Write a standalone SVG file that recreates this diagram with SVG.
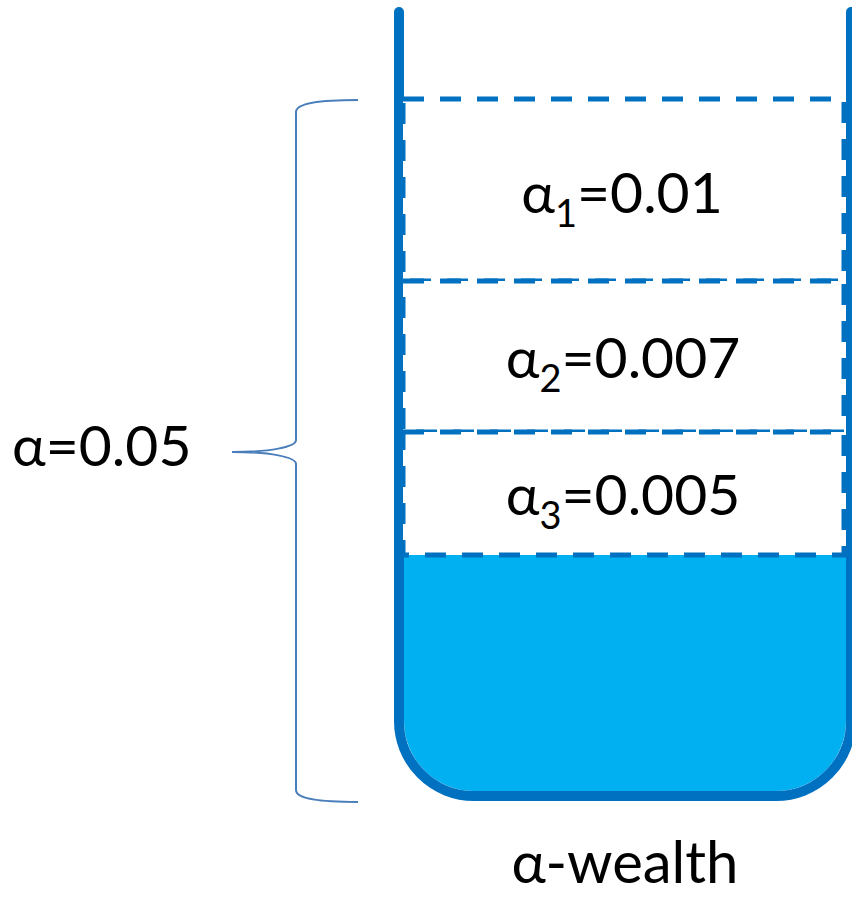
<svg xmlns="http://www.w3.org/2000/svg" width="852" height="897" viewBox="0 0 852 897">
<style>
.t{font-family:Lato,"Liberation Sans",sans-serif;font-size:57px;fill:#000}
.sub{font-size:38px}
.box{fill:#fff;stroke:#0070C0;stroke-width:5;stroke-dasharray:21 16}
</style>
<rect width="852" height="897" fill="#fff"/>
<g id="container">
<path d="M404,555 L846,555 L846,721 A70,70 0 0 1 776,791 L474,791 A70,70 0 0 1 404,721 Z" fill="#00B0F0"/>
<path d="M399,12 L399,721 A75,75 0 0 0 474,796 L776,796 A75,75 0 0 0 851,721 L851,12" fill="none" stroke="#0070C0" stroke-width="10" stroke-linecap="round"/>
</g>
<g id="alpha1">
<rect class="box" x="403" y="99" width="441" height="182"/>
<text class="t" x="622" y="213" text-anchor="middle">α<tspan class="sub" dy="14">1</tspan><tspan dy="-14">=0.01</tspan></text>
</g>
<g id="alpha2">
<rect class="box" x="403" y="281" width="441" height="151"/>
<text class="t" x="623" y="378" text-anchor="middle">α<tspan class="sub" dy="14">2</tspan><tspan dy="-14">=0.007</tspan></text>
</g>
<g id="alpha3">
<rect class="box" x="403" y="432" width="441" height="123"/>
<text class="t" x="623" y="515" text-anchor="middle">α<tspan class="sub" dy="14">3</tspan><tspan dy="-14">=0.005</tspan></text>
</g>
<g id="brace">
<path d="M358,100 C320,100 296,103 296,112 L296,440 C296,447 270,452 232,452 C270,452 296,457 296,464 L296,790 C296,799 320,802 358,802" fill="none" stroke="#4A7EBB" stroke-width="2"/>
<text class="t" x="12" y="466">α=0.05</text>
</g>
<g id="label">
<text class="t" x="625" y="883" text-anchor="middle" style="font-size:58px">α-wealth</text>
</g>
</svg>
